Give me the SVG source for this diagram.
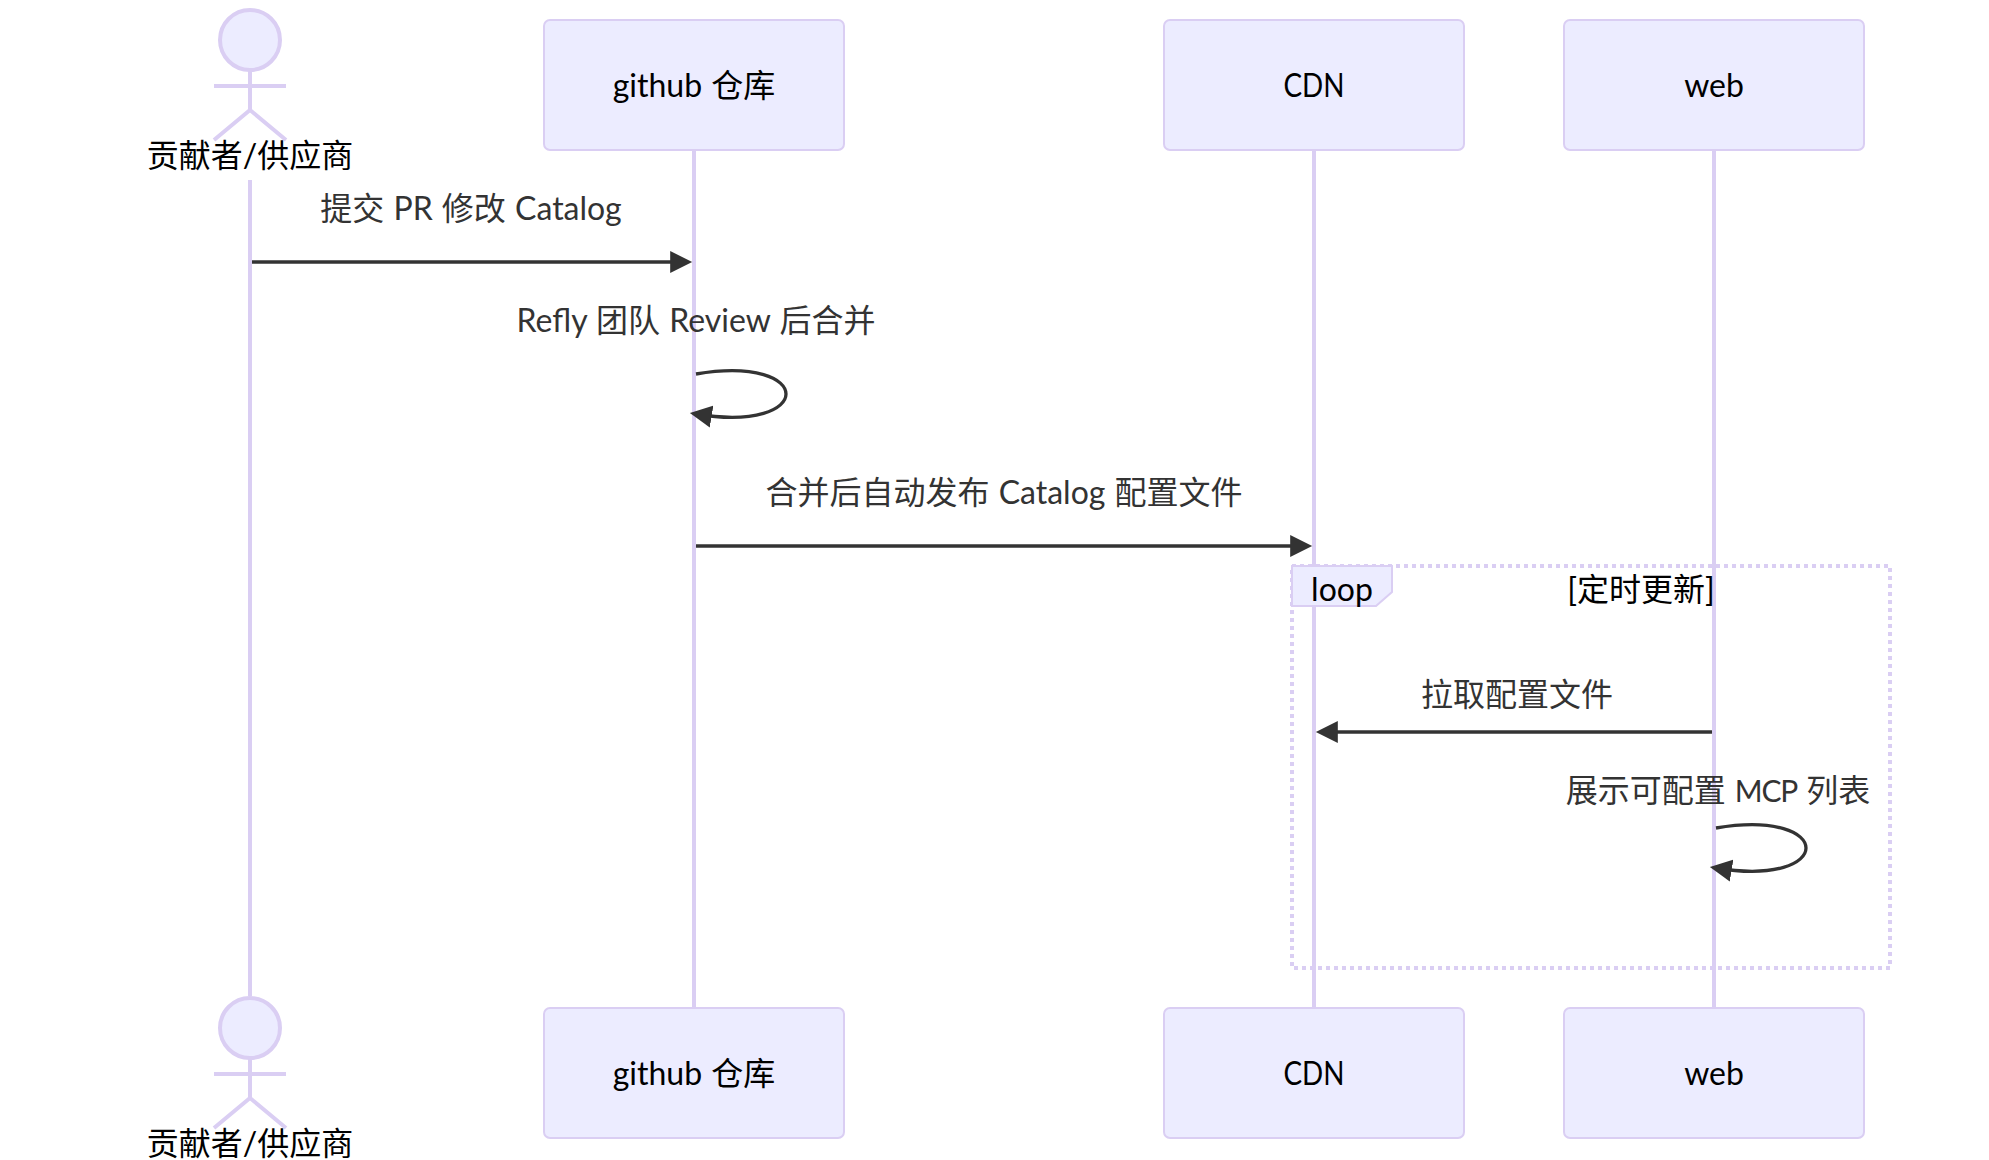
<svg xmlns="http://www.w3.org/2000/svg" width="1989" height="1160" viewBox="0 0 1989 1160">
<style>
text{font-family:"Lato","Noto Sans CJK SC",sans-serif;font-size:32px;text-anchor:middle;word-spacing:1px}
.actor{fill:#ECECFF;stroke:#DACEF3;stroke-width:2}
.man{fill:none;stroke:#DACEF3;stroke-width:4}
.head{fill:#ECECFF;stroke:#DACEF3;stroke-width:4}
.life{stroke:#DACEF3;stroke-width:4;fill:none}
.lab{fill:#000}
.msg{fill:#333}
.caps{font-size:30px;letter-spacing:-1.2px}
.line{fill:none;stroke:#333;stroke-width:3.3;marker-end:url(#arrow)}
</style>
<defs>
<marker id="arrow" markerUnits="userSpaceOnUse" markerWidth="24" markerHeight="24" viewBox="0 -1 12 12" refX="7.9" refY="5" orient="auto"><path d="M0 -.5L11 5L0 10.5z" fill="#333"/></marker>
<g id="man">
<circle class="head" cx="250" cy="40" r="30"/>
<path class="man" d="M250 70V110M214 86H286M250 110L214 140M250 110L286 140"/>
</g>
</defs>
<g id="lifelines">
<path class="life" d="M250 180V996M694 150V1008M1314 150V1008M1714 150V1008"/>
</g>
<g id="actor-top">
<use href="#man"/>
<text class="lab" x="250" y="167">贡献者/供应商</text>
</g>
<g id="github-top"><rect class="actor" x="544" y="20" width="300" height="130" rx="6"/><text class="lab" x="694" y="97">github 仓库</text></g>
<g id="cdn-top"><rect class="actor" x="1164" y="20" width="300" height="130" rx="6"/><text class="lab" x="1314" y="97" textLength="61" lengthAdjust="spacingAndGlyphs">CDN</text></g>
<g id="web-top"><rect class="actor" x="1564" y="20" width="300" height="130" rx="6"/><text class="lab" x="1714" y="97">web</text></g>
<g id="actor-bottom">
<use href="#man" y="988"/>
<text class="lab" x="250" y="1155">贡献者/供应商</text>
</g>
<g id="github-bottom"><rect class="actor" x="544" y="1008" width="300" height="130" rx="6"/><text class="lab" x="694" y="1085">github 仓库</text></g>
<g id="cdn-bottom"><rect class="actor" x="1164" y="1008" width="300" height="130" rx="6"/><text class="lab" x="1314" y="1085" textLength="61" lengthAdjust="spacingAndGlyphs">CDN</text></g>
<g id="web-bottom"><rect class="actor" x="1564" y="1008" width="300" height="130" rx="6"/><text class="lab" x="1714" y="1085">web</text></g>
<g id="loop">
<rect x="1292" y="566" width="598" height="402" fill="none" stroke="#DACEF3" stroke-width="4" stroke-dasharray="4 4"/>
<path d="M1292 566H1392V592L1376 606H1292z" fill="#ECECFF" stroke="#DACEF3" stroke-width="2"/>
<text class="lab" x="1342" y="601">loop</text>
<text class="lab" x="1641" y="601">[定时更新]</text>
</g>
<g id="connectors">
<path class="line" d="M252 262H686"/>
<path class="line" d="M696 374C816 354 816 434 696 414"/>
<path class="line" d="M696 546H1306"/>
<path class="line" d="M1712 732H1322"/>
<path class="line" d="M1716 828C1836 808 1836 888 1716 868"/>
<text class="msg" x="471" y="220">提交 PR 修改 Catalog</text>
<text class="msg" x="696" y="332">Refly 团队 Review 后合并</text>
<text class="msg" x="1004" y="504">合并后自动发布 Catalog 配置文件</text>
<text class="msg" x="1517" y="706">拉取配置文件</text>
<text class="msg" x="1718" y="802">展示可配置 <tspan class="caps">MCP</tspan> 列表</text>
</g>
</svg>
